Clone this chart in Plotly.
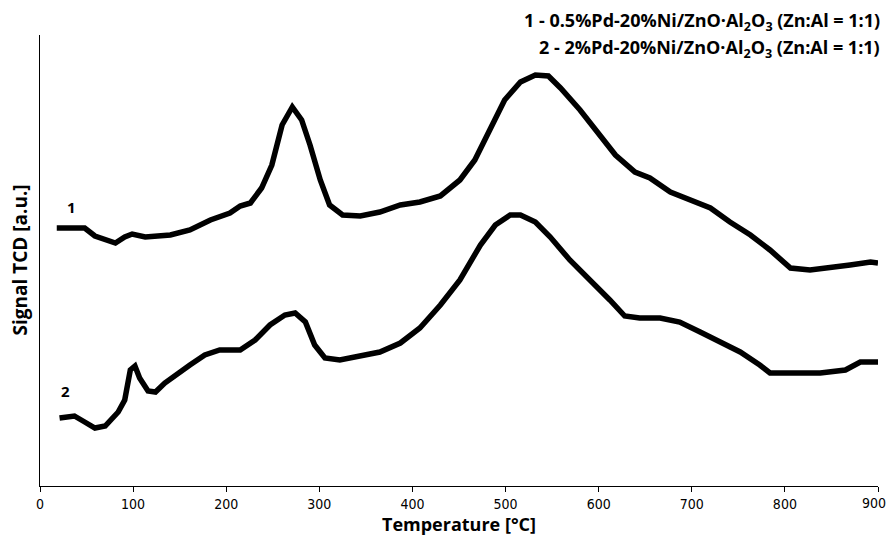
import plotly.graph_objects as go

# curve 1: 0.5%Pd sample (signal in arbitrary units)
temp_1 = [18, 48, 59, 81, 91, 99, 113, 140, 161, 183, 204, 215, 226, 238, 249, 260, 271, 281,
          290, 301, 311, 325, 344, 365, 387, 408, 430, 451, 467, 483, 499, 516, 532, 546, 559,
          580, 601, 618, 639, 655, 677, 698, 720, 741, 763, 784, 806, 827, 849, 870, 892, 900]
signal_1 = [258, 258, 250, 243, 249, 252, 249, 251, 256, 266, 273, 280, 283, 298, 321, 361, 379, 366,
            341, 306, 281, 271, 270, 274, 281, 284, 290, 306, 326, 356, 386, 404, 411, 410, 398,
            376, 351, 331, 314, 308, 294, 286, 278, 264, 251, 236, 218, 216, 218, 221, 224, 223]

# curve 2: 2%Pd sample
temp_2 = [21, 37, 48, 59, 70, 77, 84, 91, 97, 102, 107, 116, 124, 134, 145, 161, 177, 193, 215,
          231, 247, 263, 274, 285, 295, 306, 322, 344, 365, 387, 408, 430, 451, 473, 489, 505,
          516, 532, 548, 569, 591, 612, 628, 644, 666, 687, 709, 730, 752, 773, 784, 806, 838,
          865, 881, 900]
signal_2 = [68, 70, 64, 58, 60, 68, 74, 86, 116, 120, 108, 95, 94, 103, 111, 121, 131, 136, 136,
            146, 161, 171, 173, 164, 141, 128, 126, 130, 134, 143, 158, 181, 206, 241, 261, 271,
            271, 264, 249, 226, 206, 186, 170, 168, 168, 164, 154, 144, 134, 121, 113, 113, 113,
            116, 124, 124]

x_ticks = [0, 100, 200, 300, 400, 500, 600, 700, 800, 900]

# where the "1" / "2" labels sit (data coords)
label_pos = {"1": (34, 279), "2": (27, 95)}

legend_lines = [
    "<b>1 - 0.5%Pd-20%Ni/ZnO·Al<sub>2</sub>O<sub>3</sub> (Zn:Al = 1:1)</b>",
    "<b>2 - 2%Pd-20%Ni/ZnO·Al<sub>2</sub>O<sub>3</sub> (Zn:Al = 1:1)</b>",
]

FONT = "Open Sans"
TICK_FONT = "Liberation Sans Narrow, DejaVu Sans Condensed, Open Sans"

fig = go.Figure()
for t, s in [(temp_1, signal_1), (temp_2, signal_2)]:
    fig.add_trace(go.Scatter(x=t, y=s, mode="lines",
                             line=dict(color="black", width=5.5), showlegend=False))

for txt, (lx, ly) in label_pos.items():
    fig.add_annotation(x=lx, y=ly, text=f"<b>{txt}</b>", showarrow=False,
                       font=dict(size=15, color="black", family=FONT))

for i, txt in enumerate(legend_lines):
    fig.add_annotation(xref="paper", yref="paper", x=1.005, y=[1.031, 0.971][i],
                       xanchor="right", yanchor="middle", text=txt, showarrow=False,
                       align="left", font=dict(size=18, color="black", family=FONT))

# axis titles as annotations so they can be placed exactly
fig.add_annotation(xref="paper", yref="paper", x=-0.025, y=0.5, textangle=-90,
                   text="<b>Signal TCD [a.u.]</b>", showarrow=False,
                   xanchor="center", yanchor="middle",
                   font=dict(size=19, color="black", family=FONT))
fig.add_annotation(xref="paper", yref="paper", x=0.5, y=-0.085,
                   text="<b>Temperature [°C]</b>", showarrow=False,
                   xanchor="center", yanchor="middle",
                   font=dict(size=18, color="black", family=FONT))

# last tick label would run past the div (and make the page scroll), so pin it to the edge
fig.add_annotation(xref="paper", yref="paper", x=1.0119, y=-0.015,
                   text=str(x_ticks[-1]), showarrow=False, xanchor="right", yanchor="top",
                   font=dict(size=14, color="black", family=TICK_FONT))

# page body has an 8px default margin, so the figure is 16px smaller than the window
fig.update_layout(
    width=880, height=529,
    margin=dict(l=32, r=10, t=27, b=51),
    plot_bgcolor="white", paper_bgcolor="white",
    font=dict(family=FONT, color="black", size=14),
    xaxis=dict(range=[0, 900], tickvals=x_ticks,
               ticktext=[str(v) for v in x_ticks[:-1]] + [""],
               showgrid=False, zeroline=False,
               showline=True, linecolor="black", linewidth=1, ticks="outside",
               ticklen=5, tickcolor="black",
               tickfont=dict(family=TICK_FONT, size=14, color="black")),
    yaxis=dict(range=[0, 451], showgrid=False, zeroline=False, showticklabels=False,
               showline=True, linecolor="black", linewidth=1, ticks=""),
)

fig.write_html("out.html")
